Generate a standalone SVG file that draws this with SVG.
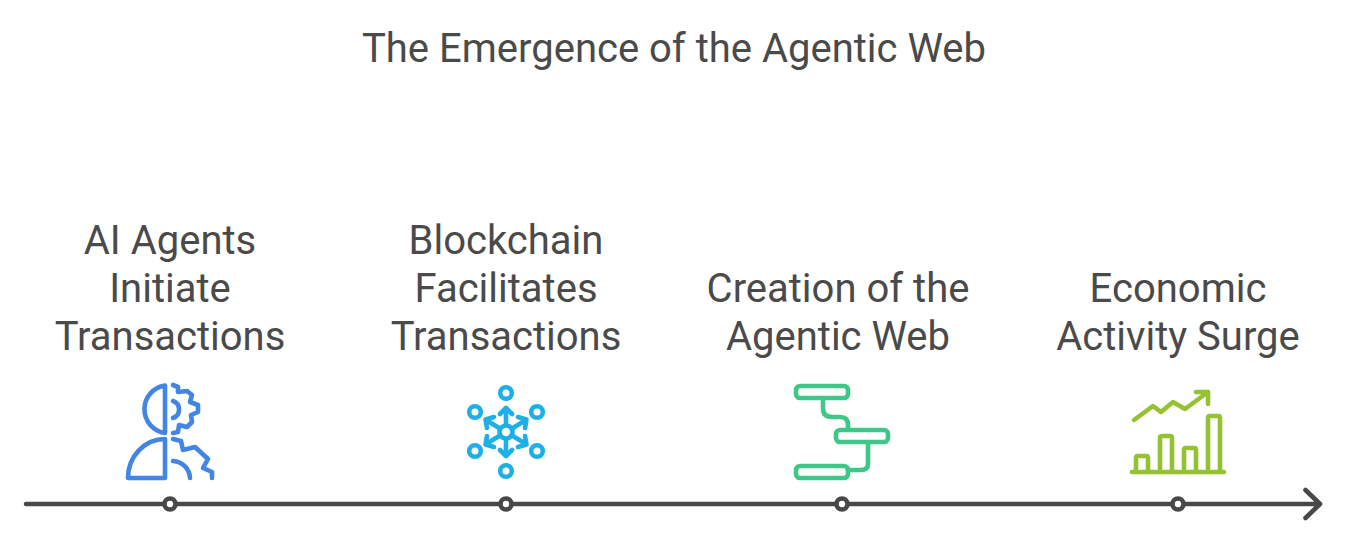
<svg xmlns="http://www.w3.org/2000/svg" width="1346" height="536" viewBox="0 0 1346 536">
<style>
text{font-family:Roboto,"Liberation Sans",sans-serif;fill:#4a4a4a;text-anchor:middle;font-size:40px}
.i{fill:none;stroke-width:4.6;stroke-linecap:round;stroke-linejoin:round}
.d{fill:#fff;stroke:#484848;stroke-width:4.6}
.c{fill:none;stroke:#484848;stroke-width:4.6;stroke-linecap:round;stroke-linejoin:round}
</style>
<rect width="1346" height="536" fill="#fff"/>
<text id="title" x="674" y="62">The Emergence of the Agentic Web</text>
<g id="connectors">
<path class="c" d="M26 504H1320M1305.500 490L1320 504L1305.500 518"/>
</g>
<g id="node1">
<text x="170" y="254">AI Agents</text>
<text x="170" y="302">Initiate</text>
<text x="170" y="350">Transactions</text>
<g class="i" stroke="#4285e4">
<path d="M165 385.500V433A24 24 0 0 1 165 385.500Z"/>
<path d="M165 439V478H128A37 39 0 0 1 165 439Z"/>
<path d="M173 385L178 387V392L187 391L192 395L190 402L198 405V412L191 415L192 422L187 427L179 425L178 432L173 433"/>
<path d="M173 401A9 9 0 0 1 173 418"/>
<path d="M173 439L181 441L183 450L195 447L208 459L203 468L212 472V478"/>
<path d="M173 461A18 18 0 0 1 190 478"/>
</g>
<circle class="d" cx="170" cy="504" r="5.500"/>
</g>
<g id="node2">
<text x="506" y="254">Blockchain</text>
<text x="506" y="302">Facilitates</text>
<text x="506" y="350">Transactions</text>
<g class="i" stroke="#1cb0e6">
<circle cx="506" cy="393" r="5.800"/>
<circle cx="506" cy="471" r="5.800"/>
<circle cx="475" cy="412" r="5.800"/>
<circle cx="537" cy="412" r="5.800"/>
<circle cx="475" cy="451" r="5.800"/>
<circle cx="537" cy="451" r="5.800"/>
<circle cx="506" cy="432" r="6.500"/>
<path d="M506 425V409M500 414L506 408L512 414"/>
<path d="M506 439V455M500 450L506 456L512 450"/>
<path d="M500 428.500L486 420M487 428L485.500 419.500L494 417"/>
<path d="M512 428.500L526 420M525 428L526.500 419.500L518 417"/>
<path d="M500 435.500L486 444M487 436L485.500 444.500L494 447"/>
<path d="M512 435.500L526 444M525 436L526.500 444.500L518 447"/>
</g>
<circle class="d" cx="506" cy="504" r="5.500"/>
</g>
<g id="node3">
<text x="838" y="302">Creation of the</text>
<text x="838" y="350">Agentic Web</text>
<g class="i" stroke="#3ec787">
<rect x="796" y="386" width="52" height="12" rx="4"/>
<rect x="836" y="430" width="52" height="12" rx="4"/>
<rect x="796" y="466" width="52" height="12" rx="4"/>
<path d="M823 398V408Q823 417 832 417H840Q848 417 848 425V430"/>
<path d="M868 442V464Q868 470 861 470H848"/>
</g>
<circle class="d" cx="842" cy="504" r="5.500"/>
</g>
<g id="node4">
<text x="1178" y="302">Economic</text>
<text x="1178" y="350">Activity Surge</text>
<g class="i" stroke="#95c232">
<path d="M1134 420L1153 406L1161 412L1173 402L1185 409L1208 392"/>
<path d="M1196 392H1208V404"/>
<path d="M1132 472H1224"/>
<path d="M1136 472V458Q1136 456 1138 456H1146Q1148 456 1148 458V472"/>
<path d="M1160 472V438Q1160 436 1162 436H1170Q1172 436 1172 438V472"/>
<path d="M1184 472V450Q1184 448 1186 448H1194Q1196 448 1196 450V472"/>
<path d="M1208 472V418Q1208 416 1210 416H1218Q1220 416 1220 418V472"/>
</g>
<circle class="d" cx="1178" cy="504" r="5.500"/>
</g>
</svg>
